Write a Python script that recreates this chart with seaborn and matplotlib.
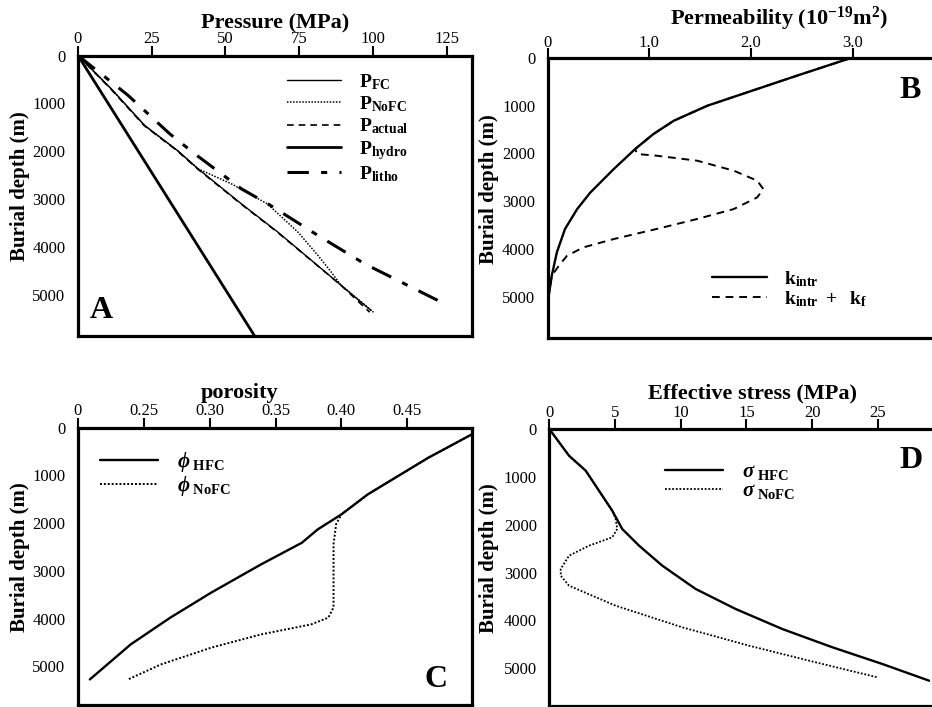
import matplotlib
matplotlib.use("Agg")
import matplotlib.pyplot as plt
import seaborn as sns
import pandas as pd

# ---- Panel A: pressure profiles (MPa) vs burial depth (m) ----
depth_fc = [0, 699, 1464, 1997, 2370, 3103, 3696, 4812, 5335]
p_fc = [0, 11.3, 22.6, 33.9, 40.7, 55.4, 67.8, 89.3, 99.4]
depth_nofc = [0, 699, 1464, 1997, 2370, 2684, 3103, 3696, 4184, 4533, 4812, 5370]
p_nofc = [0, 11.3, 22.6, 33.9, 40.7, 52.0, 64.2, 74.6, 81.4, 85.9, 89.3, 100.2]
depth_actual = [0, 699, 1464, 1997, 2370, 3103, 3696, 4812, 5370]
p_actual = [0, 11.1, 22.4, 33.7, 40.5, 55.2, 67.6, 89.3, 98.9]
depth_hydro = [0, 5868]
p_hydro = [0, 59.9]
depth_litho = [0, 830, 1638, 2057, 2789, 3103, 3766, 4358, 4812, 5195]
p_litho = [0, 16.9, 31.1, 39.6, 55.4, 64.4, 81.4, 97.2, 111.9, 124.3]

# ---- Panel B: permeability (1e-19 m^2) ----
depth_k = [0, 371, 721, 1000, 1315, 1593, 1908, 2327, 2818, 3166, 3585, 4075, 4564, 4983, 5333]
k_intr = [2.98, 2.45, 1.96, 1.57, 1.24, 1.04, 0.86, 0.65, 0.42, 0.29, 0.17, 0.09, 0.04, 0.01, 0.0]
depth_kf = [0, 371, 721, 1000, 1315, 1593, 1908, 2013, 2048, 2153, 2363, 2572, 2747, 2922,
            3166, 3375, 3585, 3795, 3971, 4145, 4354, 4564, 4983, 5333]
k_total = [2.98, 2.45, 1.96, 1.57, 1.24, 1.04, 0.86, 0.88, 1.07, 1.47, 1.83, 2.06, 2.12, 2.06,
           1.83, 1.47, 1.07, 0.65, 0.35, 0.19, 0.11, 0.04, 0.01, 0.0]

# ---- Panel C: porosity ----
depth_phi_hfc = [140, 629, 1013, 1398, 1817, 2132, 2411, 2865, 3459, 3983, 4543, 5277]
phi_hfc = [0.499, 0.466, 0.443, 0.420, 0.400, 0.382, 0.370, 0.339, 0.301, 0.270, 0.240, 0.209]
depth_phi_nofc = [140, 629, 1013, 1398, 1817, 2021, 2440, 3138, 3767, 3983, 4123, 4333, 4612, 4962, 5277]
phi_nofc = [0.499, 0.466, 0.443, 0.420, 0.400, 0.396, 0.394, 0.394, 0.394, 0.390, 0.377,
            0.339, 0.301, 0.263, 0.238]

# ---- Panel D: effective stress (MPa) ----
depth_sig_hfc = [0, 558, 871, 1289, 1707, 2089, 2438, 2856, 3343, 3761, 4179, 4561, 4910, 5259]
sig_hfc = [0, 1.50, 2.77, 3.78, 4.79, 5.55, 6.83, 8.60, 11.14, 14.18, 17.73, 21.54, 25.34, 28.90]
depth_sig_nofc = [0, 558, 871, 1289, 1707, 1880, 2089, 2263, 2438, 2647, 2925, 3065, 3274,
                  3692, 4144, 4528, 4875, 5188]
sig_nofc = [0, 1.50, 2.77, 3.78, 4.79, 5.05, 5.17, 4.79, 3.02, 1.50, 0.87, 0.87, 1.50,
            5.05, 10.12, 15.20, 20.27, 24.96]

depth_ticks = [0, 1000, 2000, 3000, 4000, 5000]
ticks_a = [0, 25, 50, 75, 100, 125]
ticks_b = [0, 1, 2, 3]
labels_b = ["0", "1.0", "2.0", "3.0"]
ticks_c = [0.20, 0.25, 0.30, 0.35, 0.40, 0.45]
labels_c = ["0", "0.25", "0.30", "0.35", "0.40", "0.45"]
ticks_d = [0, 5, 10, 15, 20, 25]

sns.set_style("white")
plt.rcParams["font.family"] = ["Liberation Serif", "DejaVu Serif"]
plt.rcParams["mathtext.fontset"] = "custom"
plt.rcParams["mathtext.rm"] = "Liberation Serif"
plt.rcParams["mathtext.bf"] = "Liberation Serif:bold"
plt.rcParams["mathtext.it"] = "Liberation Serif:italic:bold"
for key in ("text.color", "axes.labelcolor", "xtick.color", "ytick.color", "axes.edgecolor"):
    plt.rcParams[key] = "black"

W, H = 932, 707
fig = plt.figure(figsize=(W / 100, H / 100), dpi=100)


def rect(left, top, right, bottom):
    return [left / W, 1 - bottom / H, (right - left) / W, (bottom - top) / H]


axA = fig.add_axes(rect(78, 55.5, 471.7, 336))
axB = fig.add_axes(rect(547.7, 58, 935, 338))
axC = fig.add_axes(rect(78, 427.7, 471.7, 705))
axD = fig.add_axes(rect(549.3, 429, 935, 706))

DOT = (0, (1, 1))
DASH = (0, (4, 3))
DASHDOT = (0, (7, 4, 2, 4))


def curve(ax, x, y, label, ls="-", lw=1.6, z=2):
    df = pd.DataFrame({"x": x, "y": y})
    sns.lineplot(data=df, x="x", y="y", sort=False, estimator=None, ax=ax,
                 color="black", linestyle=ls, linewidth=lw, label=label, zorder=z)


curve(axA, p_fc, depth_fc, r"$\mathbf{P_{FC}}$", "-", 1.0, 4)
curve(axA, p_nofc, depth_nofc, r"$\mathbf{P_{NoFC}}$", DOT, 1.1, 3)
curve(axA, p_actual, depth_actual, r"$\mathbf{P_{actual}}$", DASH, 1.2, 3)
curve(axA, p_hydro, depth_hydro, r"$\mathbf{P_{hydro}}$", "-", 2.0, 3)
curve(axA, p_litho, depth_litho, r"$\mathbf{P_{litho}}$", DASHDOT, 2.2, 3)

curve(axB, k_intr, depth_k, r"$\mathbf{k_{intr}}$", "-", 1.7, 4)
curve(axB, k_total, depth_kf, r"$\mathbf{k_{intr}\ +\ \ k_f}$", DASH, 1.4, 3)

curve(axC, phi_hfc, depth_phi_hfc, r"$\phi_{\ \mathbf{HFC}}$", "-", 1.7, 4)
curve(axC, phi_nofc, depth_phi_nofc, r"$\phi_{\ \mathbf{NoFC}}$", DOT, 1.4, 3)

curve(axD, sig_hfc, depth_sig_hfc, r"$\sigma_{\ \mathbf{HFC}}$", "-", 1.7, 4)
curve(axD, sig_nofc, depth_sig_nofc, r"$\sigma_{\ \mathbf{NoFC}}$", DOT, 1.3, 3)

setup = [
    (axA, (0, 133.5), 5868, ticks_a, [str(t) for t in ticks_a], "Pressure (MPa)",
     (0.5, 1.098), -0.122, "A", (0.03, 0.064), -1),
    (axB, (0, 3.808), 5870, ticks_b, labels_b,
     r"Permeability (10$^{\mathbf{-19}}$m$^{\mathbf{2}}$)", (0.597, 1.118), -0.126, "B", (0.907, 0.857), -2),
    (axC, (0.2, 0.4989), 5813, ticks_c, labels_c, "porosity",
     (0.411, 1.108), -0.122, "C", (0.881, 0.065), -1),
    (axD, (0, 29.35), 5788, ticks_d, [str(t) for t in ticks_d], "Effective stress (MPa)",
     (0.527, 1.11), -0.130, "D", (0.907, 0.859), -1),
]

for ax, xl, ybot, xt, xtl, title, tpos, ylx, letter, lpos, xpad in setup:
    ax.set_xlim(*xl)
    ax.set_ylim(ybot, 0)
    ax.xaxis.tick_top()
    ax.xaxis.set_label_position("top")
    ax.set_xticks(xt)
    ax.set_xticklabels(xtl)
    ax.set_yticks(depth_ticks)
    ax.set_yticklabels([str(t) for t in depth_ticks])
    ax.tick_params(axis="x", which="major", direction="out", length=7, width=1.5,
                   pad=xpad, labelsize=12, colors="black")
    ax.tick_params(axis="y", which="major", direction="out", length=8, width=2,
                   pad=1, labelsize=12, colors="black")
    for sp in ax.spines.values():
        sp.set_linewidth(2.3)
        sp.set_color("black")
    ax.set_xlabel(title, fontsize=16, fontweight="bold", color="black")
    ax.xaxis.set_label_coords(*tpos)
    ax.set_ylabel("Burial depth (m)", fontsize=15, fontweight="bold", color="black")
    ax.yaxis.set_label_coords(ylx, 0.533)
    ax.text(lpos[0], lpos[1], letter, transform=ax.transAxes, fontsize=23,
            fontweight="bold", ha="left", va="baseline", color="black")

common = dict(loc="upper left", frameon=False, handlelength=2.8, handletextpad=0.9,
              borderaxespad=0, borderpad=0, labelcolor="black")
axA.legend(bbox_to_anchor=(0.53, 0.941), fontsize=14, labelspacing=0.13, **common)
axB.legend(bbox_to_anchor=(0.425, 0.246), fontsize=14, labelspacing=0.0, **common)
axC.legend(bbox_to_anchor=(0.055, 0.92), fontsize=15, labelspacing=0.0, **common)
axD.legend(bbox_to_anchor=(0.3, 0.88), fontsize=15, labelspacing=0.0, **common)

fig.savefig("out.png", dpi=100)
